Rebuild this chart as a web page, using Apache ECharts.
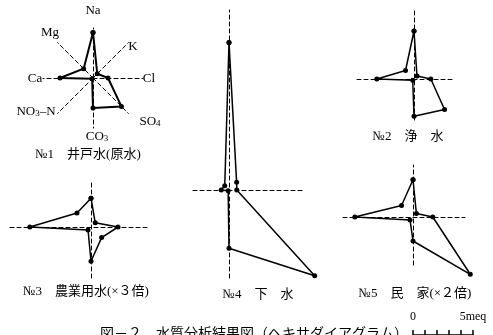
<!DOCTYPE html>
<html><head><meta charset="utf-8">
<script src="https://cdn.jsdelivr.net/npm/echarts@6/dist/echarts.min.js"></script>
<style>html,body{margin:0;padding:0;background:#fff}#c{width:493px;height:335px}</style>
</head><body><div id="c"></div>
<script>
// Ion order around the diagram (Na at top, going clockwise)
const ions = ['Na', 'K', 'Cl', 'SO4', 'CO3', 'NO3-N', 'Ca', 'Mg'];
const ionAngles = [90, 45, 0, -45, -90, -135, 180, 135];
// values in meq/l as drawn (No.3 ×3, No.5 ×2)
const well     = [3.8, 0.5, 1.25, 3.35, 2.5, 0.1, 2.75, 1.1];
const purified = [4.0, 0.35, 1.4, 3.6, 3.1, 0.15, 3.1, 1.0];
const agri     = [2.4, 0.5, 2.25, 1.25, 2.85, 0.35, 5.1, 1.65];
const sewage   = [12.3, 0.9, 0.65, 10.1, 4.85, 0.1, 0.65, 0.5];
const house    = [3.1, 0.4, 1.65, 6.75, 2.0, 0.35, 4.85, 1.35];
const titles = ['№1　井戸水(原水)', '№2　浄　水', '№3　農業用水(×３倍)', '№4　下　水', '№5　民　家(×２倍)'];
const scaleTicks = [0, 1, 2, 3, 4, 5];
const scaleLabels = ['0', '', '', '', '', '5meq'];

// layout (px)
const W = 493, H = 335;
const S = 12; // px per meq
const layout = [
  {cx: 93,  cy: 78,  L: 50, R: 50, U: 50, D: 50, axes: false},
  {cx: 414, cy: 79,  L: 57, R: 41, U: 71, D: 41, axes: true},
  {cx: 91,  cy: 227, L: 81, R: 59, U: 44, D: 51, axes: true},
  {cx: 229, cy: 190, L: 36, R: 76, U: 180, D: 88, axes: true},
  {cx: 413, cy: 217, L: 70, R: 52, U: 52, D: 48, axes: true}
];
const datasets = [well, purified, agri, sewage, house];
const titlePos = [[88, 155], [408, 137], [86, 292], [258, 295], [415, 294]];

const SERIF = "'Liberation Serif', 'Noto Sans CJK JP', serif";
const dash = [4, 3];
const grids = [], xAxes = [], yAxes = [], series = [];
const hiddenAxis = (gi, lo, hi) => ({type: 'value', gridIndex: gi, min: lo, max: hi, show: false});
layout.forEach((g, i) => {
  // axes grid (dashed cross)
  const ga = grids.length;
  grids.push({left: g.cx - g.L, top: g.cy - g.U, width: g.L + g.R, height: g.U + g.D});
  const axisCommon = {
    type: 'value', gridIndex: ga,
    axisLine: {show: g.axes, onZero: true, lineStyle: {color: '#000', width: 1, type: dash}},
    axisTick: {show: false}, axisLabel: {show: false}, splitLine: {show: false}
  };
  xAxes.push(Object.assign({}, axisCommon, {min: -g.L / S, max: g.R / S}));
  yAxes.push(Object.assign({}, axisCommon, {min: -g.D / S, max: g.U / S}));
  // data grid covering the whole canvas, same centre and scale
  const gd = grids.length;
  grids.push({left: 0, top: 0, width: W, height: H});
  xAxes.push(hiddenAxis(gd, -g.cx / S, (W - g.cx) / S));
  yAxes.push(hiddenAxis(gd, -(H - g.cy) / S, g.cy / S));
  const vals = datasets[i];
  const pts = vals.map((v, k) => {
    const a = ionAngles[k] * Math.PI / 180;
    return [v * Math.cos(a), v * Math.sin(a)];
  });
  pts.push(pts[0]);
  series.push({
    type: 'line', xAxisIndex: gd, yAxisIndex: gd, data: pts,
    symbol: 'circle', symbolSize: 5, clip: false, z: 5,
    lineStyle: {color: '#000', width: i === 0 ? 2 : 1.5},
    itemStyle: {color: '#000'}
  });
});
// scale bar grid
const gs = grids.length;
grids.push({left: 413, top: 331, width: 60, height: 10});
xAxes.push({
  type: 'value', gridIndex: gs, min: 0, max: 5, interval: 1, position: 'top',
  axisLine: {show: true, lineStyle: {color: '#000', width: 1.5}},
  axisTick: {show: true, length: 5, lineStyle: {color: '#000', width: 1.5}},
  axisLabel: {show: true, margin: 8, color: '#000', fontFamily: SERIF, fontSize: 12,
    formatter: v => scaleLabels[scaleTicks.indexOf(v)] || ''},
  splitLine: {show: false}
});
yAxes.push({type: 'value', gridIndex: gs, show: false});

const graphics = titles.map((t, i) => ({
  type: 'text', x: titlePos[i][0], y: titlePos[i][1],
  style: {text: t, fill: '#000', font: '13px ' + SERIF, align: 'center', verticalAlign: 'middle'}
}));
// ion labels of diagram No.1
const ionLabelPos = [[93, 10], [133, 46], [149, 78], [150, 121], [97, 136], [36, 111], [35, 78], [50, 32]];
const ionRich = ['{a|Na}', '{a|K}', '{a|Cl}', '{a|SO}{s|4}', '{a|CO}{s|3}', '{a|NO}{s|3}{a|–N}', '{a|Ca}', '{a|Mg}'];
ionRich.forEach((t, i) => {
  graphics.push({
    type: 'text', x: ionLabelPos[i][0], y: ionLabelPos[i][1],
    style: {text: t, align: 'center', verticalAlign: 'middle',
      rich: {a: {fontSize: 13, fontFamily: SERIF, fill: '#000', lineHeight: 15, verticalAlign: 'bottom'},
             s: {fontSize: 9, fontFamily: SERIF, fill: '#000', lineHeight: 15, verticalAlign: 'bottom', padding: [4, 0, 0, 0]}}}
  });
});
graphics.push({type: 'text', x: 100, y: 327,
  style: {text: '図－２　水質分析結果図（ヘキサダイアグラム）', fill: '#000', font: '14px ' + SERIF}});

const chart = echarts.init(document.getElementById('c'));
chart.setOption({
  animation: false,
  backgroundColor: '#fff',
  radar: {
    center: [93, 78], radius: 50, startAngle: 90, splitNumber: 1,
    indicator: ions.map(n => ({name: n, max: 1})),
    axisName: {show: false},
    axisLine: {lineStyle: {color: '#000', width: 1, type: dash}},
    splitLine: {show: false}, splitArea: {show: false}, axisTick: {show: false}
  },
  grid: grids, xAxis: xAxes, yAxis: yAxes, series: series, graphic: graphics
});
</script></body></html>
